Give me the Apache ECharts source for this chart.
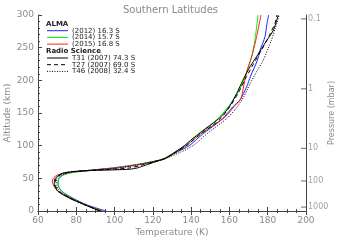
<!DOCTYPE html>
<html>
<head>
<meta charset="utf-8">
<script src="https://cdn.jsdelivr.net/npm/echarts@6/dist/echarts.min.js"></script>
<style>html,body{margin:0;padding:0;background:#fff}#c{width:341px;height:241px}</style>
</head>
<body>
<div id="c"></div>
<script>
// ---- data (temperature K vs altitude km) ----
const alt2012 = [0,5,10,20,30,40,45,50,55,58,60,63,66,70,75,80,90,100,110,120,140,160,170,190,206,230,246,267,285,300];
const t2012   = [95.5,90,85,78,72.5,70.5,70.5,71,73,76,80,89,99,109,119,126,132.5,139,143,147,156,162,165.5,169,171,174.5,176,178.6,179.5,180.5];
const alt2014 = [0,5,10,20,30,40,45,50,55,58,60,63,66,70,75,80,90,100,110,120,140,160,170,190,206,236,260,277,300];
const t2014   = [94,89,84.5,77.5,72.5,70.5,70.5,71,73,76.5,81,91,101,110,119,125.5,131.5,136.5,140.5,144.5,153.5,159.5,162,166,168.2,171.6,173.2,174,175];
const alt2015 = [0,5,10,20,30,40,45,50,55,58,60,63,66,70,75,80,90,100,110,120,144,160,172,200,213,240,267,300];
const t2015   = [93.5,88.5,84,76,70.5,68,67.5,68,70,74,79,91,102,111,120,126.5,132,137.5,141.5,146,157.7,162.5,166,168,169,172,174.2,176.5];
const altT31  = [0,5,10,20,30,40,45,50,55,58,60,62,63,64,66,70,75,80,90,100,110,120,144,160,180,200,221,240,257,277,300];
const tT31    = [92,88,84,76.5,70.5,68.5,68.5,69,71,73,77,88,100,108,112,116,121,126,131.5,136.5,140.5,145,155.5,160,163.8,167,170.8,175,178.6,183,185.5];
const altT27  = [0,10,20,30,40,45,50,55,60,62,64,66,70,75,80,90,100,120,140,160,180,206,230,251,270,287,300];
const tT27    = [92.5,84,76.5,71,69,69,69.5,71.5,77,86,100,108,114,120,126,132,137.5,146,155,160.3,164.5,169,173.5,177.7,181,183.8,184.7];
const altT46  = [0,10,20,30,40,45,50,55,60,63,66,70,75,80,90,100,120,140,155,175,195,215,231,262,280,300];
const tT46    = [93,84.5,77,71.5,69.5,69.5,70,72,78,90,102,111,119,126,134.5,141,149,158,162.9,167.5,170.8,174.5,177.7,182,184,186];

const almaNames  = ['(2012) 16.3 S','(2014) 15.7 S','(2015) 16.8 S'];
const radioNames = ['T31 (2007) 74.3 S','T27 (2007) 69.0 S','T46 (2008) 32.4 S'];

const pressureLabels = ['0.1','1','10','100','1000'];
const pressureAlt    = [294,187,96,46,6];

// ---- build ----
function zip(t, a){ return t.map((v,i)=>[v, a[i]]); }
const gray = '#8a8a8a', axisCol = '#444';
const colors = ['#2020ff','#00ee00','#ff2020','#000','#000','#000'];
const dashes = ['solid','solid','solid','solid',[4,3],[1,1.5]];

function lineSeries(name, t, a, color, type){
  return {
    name, type:'line', data: zip(t,a), showSymbol:false, symbol:'none',
    smooth:0.25, lineStyle:{color, width:1, type}, itemStyle:{color},
    xAxisIndex:0, yAxisIndex:0, animation:false
  };
}

// legend built as graphic (two header groups)
const legendG = [];
const rowH = 6.7;
function addHeader(text, y){
  legendG.push({type:'text', left:46, top:y, style:{text, font:'bold 7px DejaVu Sans', fill:'#222'}});
}
function addItem(name, i, y){
  legendG.push({type:'line', shape:{x1:47, y1:y, x2:68, y2:y},
    style:{stroke:colors[i], lineWidth:1, lineDash: Array.isArray(dashes[i]) ? dashes[i] : null}});
  legendG.push({type:'text', x:72, y:y, style:{text:name, font:'7px DejaVu Sans', fill:'#222', textVerticalAlign:'middle', verticalAlign:'middle'}});
}
addHeader('ALMA', 20.5);
almaNames.forEach((n,i)=>addItem(n, i, 30.7 + i*rowH));
addHeader('Radio Science', 47.5);
radioNames.forEach((n,i)=>addItem(n, i+3, 58 + i*rowH));

const axisLine = {show:true, lineStyle:{color:axisCol, width:1}};
const chart = echarts.init(document.getElementById('c'), null, {renderer:'canvas'});
chart.setOption({
  animation:false,
  title:{text:'Southern Latitudes', left:'center', top:0,
    textStyle:{fontFamily:'DejaVu Sans', fontSize:10, fontWeight:'normal', color:gray}},
  grid:{left:38, right:35, top:15, bottom:30, containLabel:false, outerBoundsMode:'none'},
  graphic: legendG,
  xAxis:[
    {type:'value', min:60, max:200, interval:20, position:'bottom',
     name:'Temperature (K)', nameLocation:'middle', nameGap:17, nameMoveOverlap:false,
     nameTextStyle:{fontFamily:'DejaVu Sans', fontSize:9, color:gray},
     axisLine, splitLine:{show:false},
     axisTick:{inside:true, length:4, lineStyle:{color:axisCol}},
     minorTick:{show:true, splitNumber:4, length:2, lineStyle:{color:axisCol}},
     axisLabel:{fontFamily:'DejaVu Sans', fontSize:9, color:gray, margin:5}},
    {type:'value', min:60, max:200, interval:20, position:'top',
     axisLine, splitLine:{show:false},
     axisTick:{inside:true, length:4, lineStyle:{color:axisCol}},
     minorTick:{show:true, splitNumber:4, length:2, lineStyle:{color:axisCol}},
     axisLabel:{show:false}}
  ],
  yAxis:[
    {type:'value', min:0, max:300, interval:50, position:'left',
     name:'Altitude (km)', nameLocation:'middle', nameGap:26, nameMoveOverlap:false,
     nameTextStyle:{fontFamily:'DejaVu Sans', fontSize:9, color:gray},
     axisLine, splitLine:{show:false},
     axisTick:{inside:true, length:4, lineStyle:{color:axisCol}},
     minorTick:{show:true, splitNumber:5, length:2, lineStyle:{color:axisCol}},
     axisLabel:{fontFamily:'DejaVu Sans', fontSize:9, color:gray, margin:4}},
    {type:'value', min:0, max:300, interval:50, position:'right',
     name:'Pressure (mbar)', nameLocation:'middle', nameGap:22, nameRotate:90, nameMoveOverlap:false,
     nameTextStyle:{fontFamily:'DejaVu Sans', fontSize:8, color:gray},
     axisLine, splitLine:{show:false}, axisTick:{show:false}, axisLabel:{show:false}}
  ],
  series:[
    lineSeries(almaNames[0], t2012, alt2012, colors[0], dashes[0]),
    lineSeries(almaNames[1], t2014, alt2014, colors[1], dashes[1]),
    lineSeries(almaNames[2], t2015, alt2015, colors[2], dashes[2]),
    lineSeries(radioNames[0], tT31, altT31, colors[3], dashes[3]),
    lineSeries(radioNames[1], tT27, altT27, colors[4], dashes[4]),
    lineSeries(radioNames[2], tT46, altT46, colors[5], dashes[5]),
    {type:'scatter', name:'pressure', xAxisIndex:0, yAxisIndex:0, clip:false, silent:true,
     data: pressureAlt.map((a,i)=>({value:[200,a], label:{formatter:pressureLabels[i]}})),
     symbol:'rect', symbolSize:[5,1], symbolOffset:[-2.5,0], itemStyle:{color:axisCol},
     label:{show:true, position:'right', distance:2, fontFamily:'DejaVu Sans', fontSize:8, color:gray}}
  ]
});
</script>
</body>
</html>
